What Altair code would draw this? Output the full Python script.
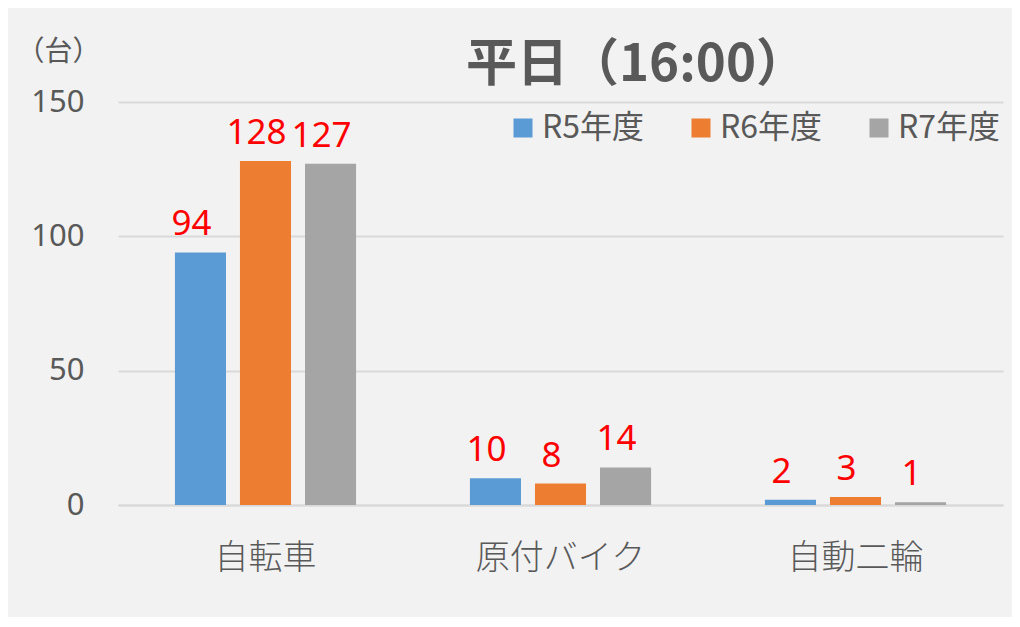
import altair as alt
import pandas as pd

categories = ["自転車", "原付バイク", "自動二輪"]
series = ["R5年度", "R6年度", "R7年度"]
r5 = [94, 10, 2]
r6 = [128, 8, 3]
r7 = [127, 14, 1]
colors = ["#5b9bd5", "#ed7d31", "#a5a5a5"]
y_ticks = [0, 50, 100, 150]

rows = []
for i, c in enumerate(categories):
    for s, vals in zip(series, [r5, r6, r7]):
        rows.append({"category": c, "series": s, "value": vals[i]})
df = pd.DataFrame(rows)

JP = "Noto Sans CJK JP"
NUM = "Noto Sans"
GREY = "#595959"

x_enc = alt.X("category:N", sort=categories,
              scale=alt.Scale(paddingInner=0.386, paddingOuter=0.193),
              axis=alt.Axis(title=None, labelAngle=0, labelFont=JP, labelFontSize=34,
                            labelFontWeight=300, labelColor=GREY, labelPadding=36,
                            ticks=False, domain=True, domainColor="#d9d9d9",
                            domainWidth=2))
xoff = alt.XOffset("series:N", sort=series, scale=alt.Scale(paddingInner=0.215, paddingOuter=0))
y_enc = alt.Y("value:Q", scale=alt.Scale(domain=[0, 150], nice=False),
              axis=alt.Axis(values=y_ticks, title="（台）", titleAngle=0, titleX=-60,
                            titleY=-50, titleAlign="center", titleBaseline="middle",
                            titleFont=JP, titleFontSize=28, titleFontWeight="normal",
                            titleColor=GREY, labelFont=NUM, labelFontSize=31,
                            labelColor=GREY, labelPadding=34, ticks=False, domain=False,
                            grid=True, gridColor="#d9d9d9", gridWidth=2))

bars = alt.Chart(df).mark_bar().encode(
    x=x_enc, xOffset=xoff, y=y_enc,
    color=alt.Color("series:N", sort=series,
                    scale=alt.Scale(domain=series, range=colors),
                    legend=alt.Legend(title=None, orient="none", direction="horizontal",
                                      legendX=389, legendY=10, symbolType="square",
                                      symbolSize=361, symbolStrokeWidth=0,
                                      labelFont=JP, labelFontSize=32, labelColor=GREY,
                                      labelOffset=3, columnPadding=40, padding=0)),
)

labels = alt.Chart(df).mark_text(
    baseline="alphabetic", dy=-17, dx=-9, color="#ff0000", font=NUM, fontSize=35
).encode(
    x=alt.X("category:N", sort=categories), xOffset=alt.XOffset("series:N", sort=series),
    y=alt.Y("value:Q"), text=alt.Text("value:Q"),
)

chart = alt.layer(bars, labels).properties(
    width=885, height=403,
    title=alt.TitleParams("平日（16:00）", anchor="middle", dx=76, offset=-54,
                          font=JP, fontSize=51, fontWeight="bold", color=GREY),
    background="#f2f2f2",
    padding={"left": 110, "top": 94, "right": 9, "bottom": 112},
    autosize=alt.AutoSizeParams(type="none"),
).configure_view(stroke=None)

chart.save("out.html", embed_options={"renderer": "svg", "actions": False})
